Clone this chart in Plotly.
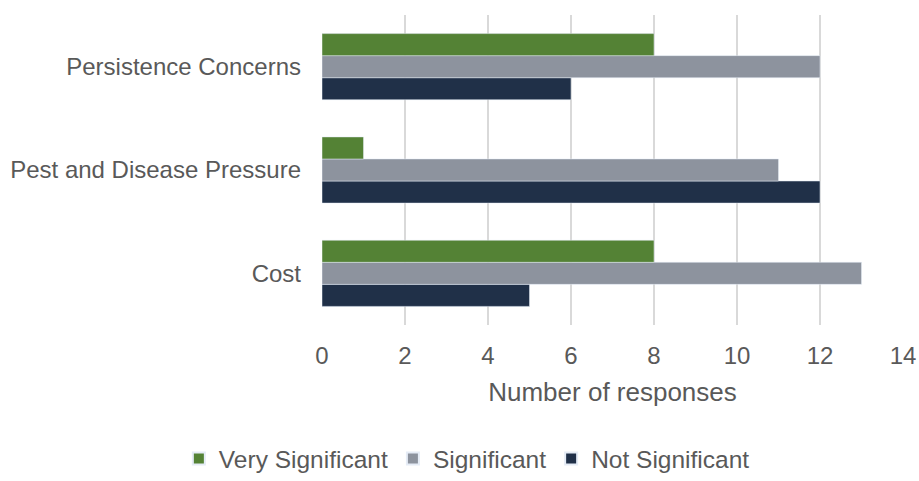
import plotly.graph_objects as go

categories = ["Cost", "Pest and Disease Pressure", "Persistence Concerns"]
very_significant = [8, 1, 8]
significant = [13, 11, 12]
not_significant = [5, 12, 6]
x_ticks = [0, 2, 4, 6, 8, 10, 12, 14]

fig = go.Figure()
fig.add_trace(go.Bar(y=categories, x=not_significant, orientation="h",
                     name="Not Significant", marker=dict(color="#203048")))
fig.add_trace(go.Bar(y=categories, x=significant, orientation="h",
                     name="Significant", marker=dict(color="#8D939E")))
fig.add_trace(go.Bar(y=categories, x=very_significant, orientation="h",
                     name="Very Significant", marker=dict(color="#548235")))

font_family = "Liberation Sans, Arial, sans-serif"
fig.update_layout(
    width=919, height=481,
    margin=dict(l=322, r=16, t=15, b=156, autoexpand=False),
    paper_bgcolor="white", plot_bgcolor="white",
    barmode="group", bargap=0.36, bargroupgap=0,
    font=dict(family=font_family, color="#595959", size=24),
    showlegend=True,
    legend=dict(orientation="h", traceorder="reversed",
                x=0.508, xanchor="center", xref="container",
                y=0.0, yanchor="bottom", yref="container",
                font=dict(size=24.5, color="#595959"),
                itemwidth=30, itemsizing="constant"),
    xaxis=dict(range=[0, 14], tickvals=x_ticks, showgrid=True, automargin=False,
               gridcolor="#D9D9D9", gridwidth=1.5, zeroline=False,
               showline=False, ticks="", ticklabelstandoff=14,
               tickfont=dict(size=24, color="#595959"),
               title=dict(text="Number of responses", standoff=14,
                          font=dict(size=26, color="#595959"))),
    yaxis=dict(showgrid=False, zeroline=False, showline=False, ticks="",
               automargin=False, ticklabelstandoff=20,
               tickfont=dict(size=24, color="#595959")),
)

fig.write_html("out.html", config={"displayModeBar": False},
               post_script="document.body.style.margin='0';document.body.style.overflow='hidden';")
